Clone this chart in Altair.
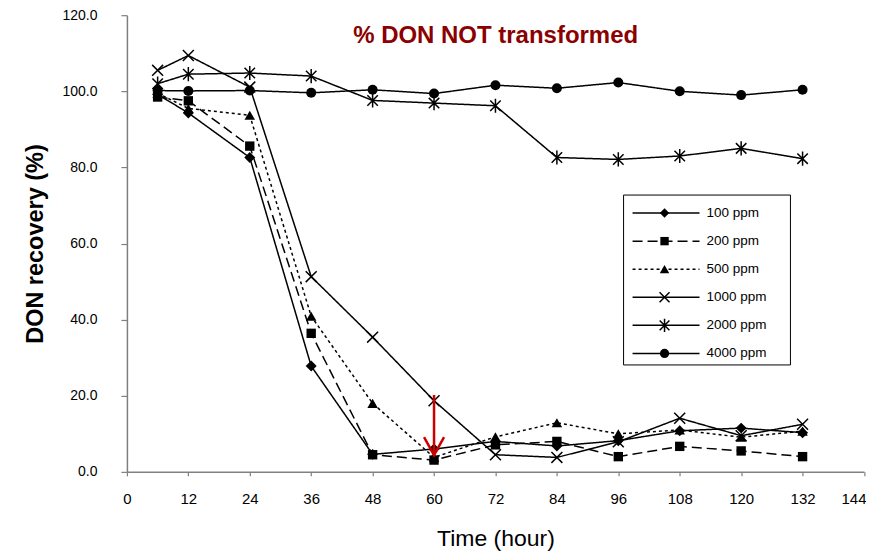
import altair as alt
import pandas as pd

hours = [6, 12, 24, 36, 48, 60, 72, 84, 96, 108, 120, 132]

ppm100 = [99.2, 94.3, 82.6, 27.8, 4.6, 6.0, 8.0, 6.8, 8.2, 10.8, 11.5, 10.3]
ppm200 = [98.5, 97.5, 85.6, 36.4, 4.5, 3.1, 7.1, 8.0, 4.0, 6.7, 5.5, 4.0]
ppm500 = [99.5, 95.5, 93.7, 40.9, 18.0, 3.8, 9.2, 12.9, 10.0, 11.0, 9.1, 10.7]
ppm1000 = [105.5, 109.4, 101.1, 51.3, 35.4, 18.7, 4.5, 3.8, 7.9, 14.1, 9.5, 12.5]
ppm2000 = [102.0, 104.5, 104.8, 104.0, 97.6, 96.9, 96.2, 82.6, 82.1, 83.0, 85.0, 82.3]
ppm4000 = [100.2, 100.1, 100.2, 99.6, 100.4, 99.4, 101.6, 100.8, 102.3, 100.0, 99.0, 100.4]

series_names = ["100 ppm", "200 ppm", "500 ppm", "1000 ppm", "2000 ppm", "4000 ppm"]
series_values = [ppm100, ppm200, ppm500, ppm1000, ppm2000, ppm4000]

x_ticks = list(range(0, 145, 12))
y_ticks = [0, 20, 40, 60, 80, 100, 120]

arrow_hour = [60]
arrow_top = [20.2]
arrow_tip = [4.4]

title_text = "% DON NOT transformed"

FONT = "Liberation Sans"
X_PATH = "M-1,-1L1,1M-1,1L1,-1"
AST_PATH = "M-1,-1L1,1M-1,1L1,-1M0,-1.35L0,1.35"

styles = [
    dict(dash=[1, 0], shape="diamond", size=120, lsize=90, filled=True),
    dict(dash=[10, 5], shape="square", size=88, lsize=70, filled=True),
    dict(dash=[3, 3], shape="triangle-up", size=110, lsize=90, filled=True),
    dict(dash=[1, 0], shape=X_PATH, size=120, lsize=100, filled=False),
    dict(dash=[1, 0], shape=AST_PATH, size=110, lsize=95, filled=False),
    dict(dash=[1, 0], shape="circle", size=100, lsize=85, filled=True),
]

xs = alt.Scale(domain=[0, 144], nice=False, zero=False)
ys = alt.Scale(domain=[0, 120], nice=False)

last_test = "datum.value == 144"
X = alt.X("hour:Q", scale=xs, axis=alt.Axis(
    values=x_ticks, title="Time (hour)", tickSize=4,
    labelPadding=16, titlePadding=21, labelFontSize=15,
    labelAlign={"condition": {"test": last_test, "value": "right"}, "value": "center"},
    labelOffset={"condition": {"test": last_test, "value": 2}, "value": 0},
    titleFontSize=23, titleFontWeight="normal"))
Y = alt.Y("value:Q", scale=ys, axis=alt.Axis(
    values=y_ticks, format=".1f", title="DON recovery (%)",
    tickSize=6, labelPadding=24, titlePadding=14,
    labelFontSize=14, titleFontSize=23.5, titleFontWeight="bold"))

layers = []
for name, vals, st in zip(series_names, series_values, styles):
    df = pd.DataFrame({"hour": hours, "value": vals})
    base = alt.Chart(df)
    layers.append(base.mark_line(color="black", strokeWidth=1.5, strokeDash=st["dash"]).encode(x=X, y=Y))
    if st["filled"]:
        pm = base.mark_point(shape=st["shape"], size=st["size"], filled=True, color="black", opacity=1)
    else:
        pm = base.mark_point(shape=st["shape"], size=st["size"], filled=False, color="black",
                             strokeWidth=1.5, opacity=1)
    layers.append(pm.encode(x=X, y=Y))

# red arrow
adf = pd.DataFrame({"hour": arrow_hour, "value": arrow_top, "tip": arrow_tip})
arrow_line = alt.Chart(adf).mark_rule(color="#CC0000", strokeWidth=2.5).encode(
    x=alt.X("hour:Q", scale=xs), y=alt.Y("value:Q", scale=ys), y2="tip:Q")
arrow_head = alt.Chart(adf).mark_point(shape="M-1,-1.8L0,0L1,-1.8", size=400, filled=False,
                                       color="#CC0000", strokeWidth=2.5, opacity=1).encode(
    x=alt.X("hour:Q", scale=xs), y=alt.Y("tip:Q", scale=ys))
layers += [arrow_line, arrow_head]

# title inside plot
one = pd.DataFrame({"a": [0]})
layers.append(alt.Chart(one).mark_text(font=FONT, fontSize=24, fontWeight="bold",
                                       color="#8B0000", align="center", baseline="alphabetic").encode(
    x=alt.value(369), y=alt.value(28), text=alt.value(title_text)))

# manual legend
LX0, LX1, LY0, LY1 = 497, 664, 180, 350
layers.append(alt.Chart(one).mark_rect(fill="white", stroke="black", strokeWidth=1).encode(
    x=alt.value(LX0), x2=alt.value(LX1), y=alt.value(LY0), y2=alt.value(LY1)))
for i, (name, st) in enumerate(zip(series_names, styles)):
    yy = 198 + 28.1 * i
    layers.append(alt.Chart(one).mark_rule(color="black", strokeWidth=1.5, strokeDash=st["dash"]).encode(
        x=alt.value(506), x2=alt.value(573), y=alt.value(yy), y2=alt.value(yy)))
    if st["filled"]:
        pm = alt.Chart(one).mark_point(shape=st["shape"], size=st["lsize"], filled=True, color="black", opacity=1)
    else:
        pm = alt.Chart(one).mark_point(shape=st["shape"], size=st["lsize"], filled=False, color="black",
                                       strokeWidth=1.5, opacity=1)
    layers.append(pm.encode(x=alt.value(538), y=alt.value(yy)))
    layers.append(alt.Chart(one).mark_text(font=FONT, fontSize=13.5, align="left", baseline="middle",
                                           color="black").encode(
        x=alt.value(580), y=alt.value(yy), text=alt.value(name)))

chart = alt.layer(*layers).properties(
    width=737.6, height=457, padding={"left": 15, "top": 0, "right": 0, "bottom": 0}
).configure_view(stroke=None).configure_axis(
    domainColor="#808080", domainWidth=1.5, tickColor="#808080", tickWidth=1.2, grid=False,
    labelColor="black", titleColor="black", labelFont=FONT, titleFont=FONT
)

chart.save("out.html", embed_options={"renderer": "svg", "actions": False})
